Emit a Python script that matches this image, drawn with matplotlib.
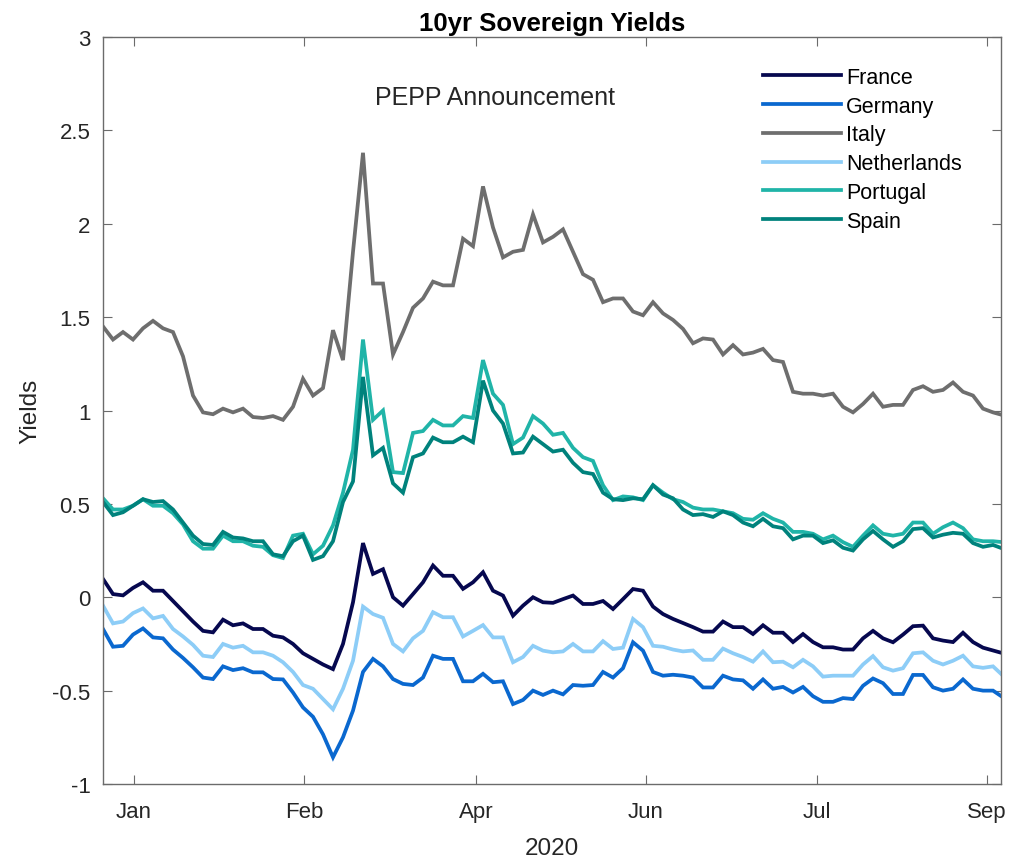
"""10yr sovereign yields, 2020, with the PEPP announcement marked."""

import matplotlib

matplotlib.use("Agg")
import matplotlib.pyplot as plt
import numpy as np

FRANCE = [0.098, 0.017, 0.01, 0.05, 0.08, 0.035, 0.035, -0.02, -0.075, -0.13,
          -0.18, -0.188, -0.12, -0.15, -0.14, -0.17, -0.17, -0.206, -0.215, -0.25,
          -0.30, -0.33, -0.36, -0.385, -0.25, -0.027, 0.29, 0.125, 0.15, 0.0,
          -0.045, 0.017, 0.08, 0.17, 0.115, 0.115, 0.045, 0.08, 0.134, 0.035,
          0.009, -0.099, -0.045, 0.0, -0.027, -0.03, -0.01, 0.009, -0.036, -0.036,
          -0.02, -0.063, -0.01, 0.044, 0.035, -0.05, -0.09, -0.116, -0.138, -0.16,
          -0.184, -0.184, -0.13, -0.16, -0.16, -0.197, -0.15, -0.19, -0.19, -0.24,
          -0.197, -0.24, -0.268, -0.268, -0.28, -0.28, -0.22, -0.18, -0.22, -0.241,
          -0.20, -0.155, -0.152, -0.22, -0.232, -0.24, -0.19, -0.24, -0.27, -0.285,
          -0.30]
GERMANY = [-0.17, -0.265, -0.26, -0.20, -0.167, -0.215, -0.22, -0.28, -0.325, -0.375,
           -0.43, -0.438, -0.37, -0.39, -0.38, -0.402, -0.402, -0.438, -0.44, -0.51,
           -0.59, -0.64, -0.734, -0.857, -0.75, -0.607, -0.40, -0.33, -0.37, -0.438,
           -0.464, -0.47, -0.43, -0.313, -0.33, -0.33, -0.45, -0.45, -0.41, -0.455,
           -0.45, -0.572, -0.55, -0.50, -0.523, -0.50, -0.52, -0.47, -0.474, -0.47,
           -0.40, -0.43, -0.38, -0.241, -0.286, -0.40, -0.42, -0.415, -0.42, -0.43,
           -0.483, -0.483, -0.42, -0.44, -0.445, -0.49, -0.44, -0.49, -0.48, -0.51,
           -0.48, -0.53, -0.56, -0.56, -0.54, -0.545, -0.474, -0.435, -0.46, -0.518,
           -0.518, -0.416, -0.416, -0.482, -0.50, -0.49, -0.44, -0.49, -0.50, -0.50,
           -0.536]
ITALY = [1.45, 1.38, 1.42, 1.38, 1.44, 1.48, 1.44, 1.42, 1.29, 1.08,
         0.99, 0.98, 1.01, 0.99, 1.01, 0.965, 0.96, 0.97, 0.95, 1.02,
         1.17, 1.08, 1.12, 1.43, 1.27, 1.85, 2.38, 1.68, 1.68, 1.30,
         1.42, 1.55, 1.60, 1.69, 1.67, 1.67, 1.92, 1.88, 2.20, 1.98,
         1.82, 1.85, 1.86, 2.05, 1.90, 1.93, 1.97, 1.85, 1.73, 1.70,
         1.58, 1.60, 1.60, 1.53, 1.51, 1.58, 1.52, 1.485, 1.437, 1.36,
         1.386, 1.38, 1.30, 1.35, 1.30, 1.31, 1.33, 1.27, 1.26, 1.10,
         1.09, 1.09, 1.08, 1.09, 1.02, 0.99, 1.035, 1.09, 1.02, 1.03,
         1.03, 1.11, 1.13, 1.10, 1.11, 1.15, 1.10, 1.08, 1.01, 0.99,
         0.975]
NETHERLANDS = [-0.045, -0.14, -0.13, -0.085, -0.06, -0.113, -0.10, -0.17, -0.21, -0.255,
               -0.313, -0.32, -0.25, -0.27, -0.26, -0.295, -0.295, -0.313, -0.348, -0.40,
               -0.47, -0.49, -0.545, -0.60, -0.49, -0.34, -0.05, -0.09, -0.11, -0.25,
               -0.29, -0.22, -0.18, -0.08, -0.107, -0.107, -0.21, -0.18, -0.149, -0.215,
               -0.215, -0.348, -0.32, -0.26, -0.286, -0.295, -0.29, -0.25, -0.29, -0.29,
               -0.235, -0.277, -0.27, -0.116, -0.16, -0.26, -0.265, -0.28, -0.29, -0.285,
               -0.335, -0.335, -0.275, -0.30, -0.32, -0.345, -0.29, -0.348, -0.345, -0.375,
               -0.335, -0.37, -0.425, -0.42, -0.42, -0.42, -0.36, -0.315, -0.375, -0.393,
               -0.38, -0.30, -0.295, -0.34, -0.36, -0.34, -0.313, -0.37, -0.378, -0.37,
               -0.42]
PORTUGAL = [0.53, 0.47, 0.47, 0.49, 0.525, 0.49, 0.49, 0.45, 0.39, 0.30,
            0.26, 0.26, 0.33, 0.30, 0.30, 0.276, 0.27, 0.225, 0.21, 0.33,
            0.34, 0.23, 0.276, 0.385, 0.56, 0.79, 1.38, 0.95, 1.0, 0.67,
            0.665, 0.88, 0.89, 0.95, 0.92, 0.92, 0.97, 0.96, 1.27, 1.09,
            1.03, 0.82, 0.855, 0.97, 0.93, 0.87, 0.88, 0.80, 0.75, 0.73,
            0.60, 0.52, 0.54, 0.535, 0.52, 0.60, 0.56, 0.525, 0.51, 0.48,
            0.47, 0.47, 0.46, 0.45, 0.42, 0.415, 0.45, 0.42, 0.40, 0.35,
            0.35, 0.34, 0.31, 0.33, 0.295, 0.27, 0.33, 0.385, 0.34, 0.33,
            0.34, 0.40, 0.40, 0.34, 0.375, 0.40, 0.37, 0.31, 0.30, 0.30,
            0.295]
SPAIN = [0.51, 0.44, 0.455, 0.49, 0.525, 0.51, 0.515, 0.47, 0.40, 0.33,
         0.285, 0.28, 0.35, 0.32, 0.315, 0.30, 0.30, 0.23, 0.22, 0.30,
         0.33, 0.20, 0.22, 0.30, 0.51, 0.62, 1.18, 0.76, 0.80, 0.61,
         0.56, 0.75, 0.77, 0.855, 0.83, 0.83, 0.86, 0.83, 1.16, 1.0,
         0.93, 0.77, 0.775, 0.86, 0.82, 0.78, 0.79, 0.72, 0.67, 0.66,
         0.56, 0.525, 0.52, 0.53, 0.525, 0.60, 0.55, 0.53, 0.47, 0.44,
         0.445, 0.43, 0.46, 0.44, 0.40, 0.38, 0.42, 0.38, 0.37, 0.31,
         0.33, 0.33, 0.29, 0.305, 0.265, 0.25, 0.31, 0.355, 0.31, 0.27,
         0.30, 0.365, 0.37, 0.32, 0.335, 0.345, 0.34, 0.29, 0.27, 0.28,
         0.26]

COUNTRIES = ["France", "Germany", "Italy", "Netherlands", "Portugal", "Spain"]
MONTHS = ["Jan", "Feb", "Apr", "Jun", "Jul", "Sep"]
MONTH_POS = [3.1, 20.1, 37.3, 54.3, 71.4, 88.4]

COLORS = ["#06084F", "#0A68CF", "#6E6E6E", "#8DCDF7", "#20B4A8", "#00827C"]
AXIS_GRAY = "#6B6B6B"
TEXT = "#262626"

plt.rcParams["font.family"] = ["Liberation Sans", "DejaVu Sans"]

fig = plt.figure(figsize=(10.1, 8.62), dpi=100)
ax = fig.add_axes([103 / 1010, 1 - 785 / 862, 898 / 1010, 747 / 862])

series = [FRANCE, GERMANY, ITALY, NETHERLANDS, PORTUGAL, SPAIN]
days = np.arange(len(FRANCE))
for name, values, color in zip(COUNTRIES, series, COLORS):
    ax.plot(days, values, color=color, linewidth=2.7, label=name,
            solid_joinstyle="miter")

ax.set_xlim(0, 89.8)
ax.set_ylim(-1, 3)
ax.set_yticks(np.arange(-1, 3.01, 0.5))
ax.set_yticklabels(["-1", "-0.5", "0", "0.5", "1", "1.5", "2", "2.5", "3"])
ax.set_xticks(MONTH_POS)
ax.set_xticklabels(MONTHS)
ax.tick_params(direction="in", length=6.5, width=0.8, color=AXIS_GRAY,
               labelcolor=TEXT, labelsize=16, top=True, right=True)
ax.tick_params(axis="y", pad=9)
ax.tick_params(axis="x", pad=12)
for spine in ax.spines.values():
    spine.set_color(AXIS_GRAY)
    spine.set_linewidth(1.0)

ax.set_title("10yr Sovereign Yields", fontsize=18.5, fontweight="bold",
             color="black", pad=5)
ax.set_xlabel("2020", fontsize=17.5, color=TEXT, labelpad=11)
ax.set_ylabel("Yields", fontsize=17.5, color=TEXT, labelpad=8)

ax.text(39.2, 2.68, "PEPP Announcement", fontsize=18, color=TEXT,
        ha="center", va="center")

ax.legend(loc="upper left", bbox_to_anchor=(0.735, 0.96), frameon=False,
          fontsize=15.5, handlelength=3.6, handletextpad=0.25,
          labelspacing=0.36, borderpad=0, borderaxespad=0)

fig.savefig("out.png", dpi=100, facecolor="white")
